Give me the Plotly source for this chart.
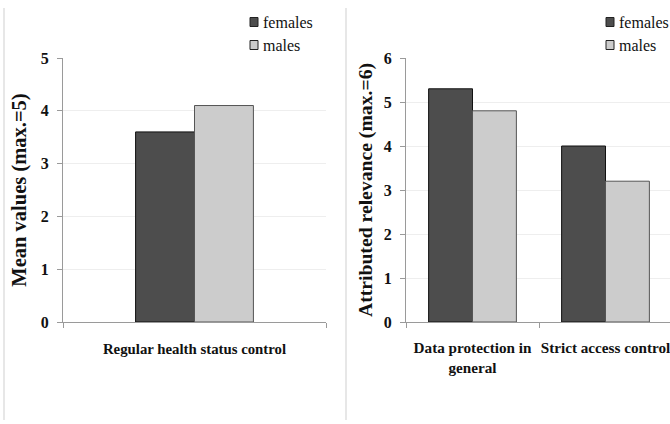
import plotly.graph_objects as go

# ---- data ----
left_categories = ["Regular health status control"]
left_females = [3.6]
left_males = [4.1]

right_categories = ["Data protection in<br>general", "Strict access control"]
right_females = [5.3, 4.0]
right_males = [4.8, 3.2]

series_names = ["females", "males"]
left_ticks = [0, 1, 2, 3, 4, 5]
right_ticks = [0, 1, 2, 3, 4, 5, 6]

# ---- style ----
W, H = 670, 424
FONT = "Liberation Serif"
F_FILL, F_LINE = "#4d4d4d", "#111111"
M_FILL, M_LINE = "#cccccc", "#555555"
AXIS_COLOR = "#9a9a9a"
GRID_COLOR = "#eeeeee"
TXT = "#111111"

def px_x(p):
    return p / W

def px_y(p):
    return 1 - p / H

fig = go.Figure()

lw = 0.224
fig.add_trace(go.Bar(x=left_categories, y=left_females, name=series_names[0],
                     marker=dict(color=F_FILL, line=dict(color=F_LINE, width=1)),
                     width=lw, offset=-lw, xaxis="x", yaxis="y"))
fig.add_trace(go.Bar(x=left_categories, y=left_males, name=series_names[1],
                     marker=dict(color=M_FILL, line=dict(color=M_LINE, width=1)),
                     width=lw, offset=0, xaxis="x", yaxis="y"))

rw = 0.33
fig.add_trace(go.Bar(x=right_categories, y=right_females, name=series_names[0],
                     marker=dict(color=F_FILL, line=dict(color=F_LINE, width=1)),
                     width=rw, offset=-rw, xaxis="x2", yaxis="y2"))
fig.add_trace(go.Bar(x=right_categories, y=right_males, name=series_names[1],
                     marker=dict(color=M_FILL, line=dict(color=M_LINE, width=1)),
                     width=rw, offset=0, xaxis="x2", yaxis="y2"))

ydom = [px_y(322), px_y(58)]

common_x = dict(showline=True, linecolor=AXIS_COLOR, linewidth=1, ticks="outside",
                ticklen=5, tickcolor=AXIS_COLOR, tickson="boundaries", showgrid=False,
                automargin=False, fixedrange=True, tickangle=0)
common_y = dict(showline=True, linecolor=AXIS_COLOR, linewidth=1, ticks="outside",
                ticklen=5, tickcolor=AXIS_COLOR, showgrid=True, gridcolor=GRID_COLOR,
                gridwidth=1, zeroline=False, domain=ydom, automargin=False,
                ticklabelstandoff=5,
                tickfont=dict(family=FONT, size=16, color=TXT))

fig.update_layout(
    width=W, height=H,
    margin=dict(l=0, r=0, t=0, b=0),
    paper_bgcolor="white", plot_bgcolor="white",
    barmode="overlay",
    showlegend=False,
    font=dict(family=FONT, color=TXT),
    xaxis=dict(domain=[px_x(63), px_x(326)], anchor="y", range=[-0.5, 0.5],
               tickvals=left_categories, ticklabelstandoff=13,
               tickfont=dict(family=FONT, size=14.8, color=TXT),
               ticktext=["<b>%s</b>" % c for c in left_categories], **common_x),
    yaxis=dict(anchor="x", range=[0, 5], tickvals=left_ticks,
               ticktext=["<b>%d</b>" % v for v in left_ticks],
               title=dict(text="<b>Mean values (max.=5)</b>", standoff=8,
                          font=dict(family=FONT, size=20.5, color=TXT)), **common_y),
    xaxis2=dict(domain=[px_x(406), 1.0], anchor="y2", range=[-0.5, 1.5 - 2 / 133],
                tickvals=right_categories, ticklabelstandoff=12,
                tickfont=dict(family=FONT, size=15.2, color=TXT),
                ticktext=["<b>%s</b>" % c for c in right_categories], **common_x),
    yaxis2=dict(anchor="x2", range=[0, 6], tickvals=right_ticks,
                ticktext=["<b>%d</b>" % v for v in right_ticks],
                title=dict(text="<b>Attributed relevance (max.=6)</b>", standoff=5,
                           font=dict(family=FONT, size=19.7, color=TXT)), **common_y),
)

# legends (drawn manually, one per panel)
legend_styles = [(F_FILL, F_LINE), (M_FILL, M_LINE)]
for lx in (250, 606):
    for i, name in enumerate(series_names):
        cy = 22 + 23 * i
        fill, line = legend_styles[i]
        fig.add_shape(type="rect", xref="paper", yref="paper",
                      x0=px_x(lx), x1=px_x(lx + 8), y0=px_y(cy + 4.5), y1=px_y(cy - 4.5),
                      fillcolor=fill, line=dict(color="#222222", width=1))
        fig.add_annotation(xref="paper", yref="paper", x=px_x(lx + 11), y=px_y(cy),
                           xanchor="left", yanchor="middle", showarrow=False,
                           text=name, font=dict(family=FONT, size=16, color=TXT))

# panel separators
for xp in (4, 346):
    fig.add_shape(type="line", xref="paper", yref="paper",
                  x0=px_x(xp), x1=px_x(xp), y0=px_y(420), y1=px_y(8),
                  line=dict(color="#cfcfcf", width=1))

fig.write_html("out.html", config={"displayModeBar": False},
               post_script="document.body.style.margin='0';document.body.style.overflow='hidden';")
